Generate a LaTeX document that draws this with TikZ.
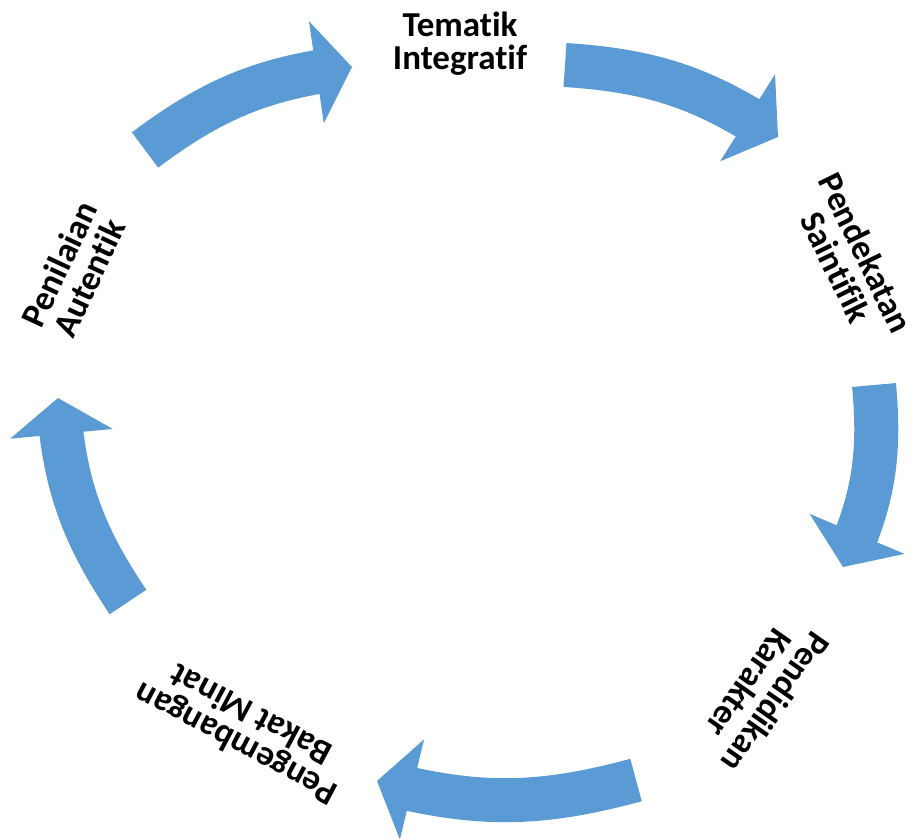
\documentclass[tikz,border=0pt]{standalone}
\usepackage{fontspec}
\setmainfont{Carlito}[Ligatures=NoCommon]
\usetikzlibrary{arrows.meta,bending}
\definecolor{cycblue}{RGB}{91,155,213}
\tikzset{
  lbl/.style={align=center, inner sep=0pt, font=\bfseries\fontsize{35}{33}\selectfont},
  cyc/.style={cycblue, line width=44pt, -{Triangle[length=36pt,width=103pt,line width=0pt]}}
}
\begin{document}
\begin{tikzpicture}[x=1pt,y=1pt]
\useasboundingbox (0,0) rectangle (920,838);
% labels round the cycle
\node[lbl] (tematik) at (460,794) {Tematik\\Integratif};
\node[lbl, rotate=-64] (saintifik) at (851,578) {Pendekatan\\Saintifik};
\node[lbl, rotate=-125] (karakter) at (763,145) {Pendidikan\\Karakter};
\node[lbl, rotate=152] (bakat) at (243,108) {Pengembangan\\Bakat Minat};
\node[lbl, rotate=65] (penilaian) at (74,567) {Penilaian\\Autentik};
% arrow ends
\coordinate (t1) at (145,688); \coordinate (h1) at (352,771);
\coordinate (t2) at (565,773); \coordinate (h2) at (778,701);
\coordinate (t3) at (874,453); \coordinate (h3) at (843,271);
\coordinate (t4) at (636,58);  \coordinate (h4) at (377,57);
\coordinate (t5) at (128,236); \coordinate (h5) at (58,440);
\foreach \i in {1,...,5} {
    \draw[cyc] (t\i) to[bend left=15] (h\i);
}
\end{tikzpicture}
\end{document}
